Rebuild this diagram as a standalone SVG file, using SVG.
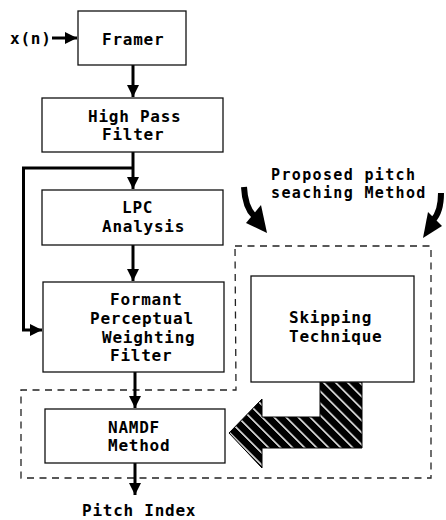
<svg xmlns="http://www.w3.org/2000/svg" width="446" height="520" viewBox="0 0 446 520">
<style>
.box{fill:#fff;stroke:#111;stroke-width:1.3}
.t{font-family:"DejaVu Sans Mono","Liberation Mono",monospace;font-size:16px;font-weight:bold;letter-spacing:0.75px;fill:#000}
.s{font-size:15px;letter-spacing:1.35px}
.ln{fill:none;stroke:#000;stroke-width:3}
.dash{fill:none;stroke:#222;stroke-width:1.3;stroke-dasharray:7 5.5}
</style>
<defs>
<marker id="ah" markerUnits="userSpaceOnUse" markerWidth="14" markerHeight="14" refX="12" refY="6" orient="auto">
<path d="M0,0 L12,6 L0,12 Z" fill="#000"/>
</marker>
<pattern id="hatch" patternUnits="userSpaceOnUse" width="8.5" height="8.5" patternTransform="rotate(-45)">
<rect width="8.5" height="8.5" fill="#000"/>
<rect width="1.5" height="8.5" fill="#fff"/>
</pattern>
</defs>

<g id="region">
<path class="dash" d="M235,246 H431 V478 H21 V390 H236 Z"/>
</g>

<g id="connectors">
<line class="ln" x1="52" y1="38" x2="77" y2="38" marker-end="url(#ah)"/>
<line class="ln" x1="133" y1="65" x2="133" y2="97" marker-end="url(#ah)"/>
<line class="ln" x1="133" y1="152" x2="133" y2="189" marker-end="url(#ah)"/>
<polyline class="ln" points="133,168 23.5,168 23.5,330 42,330" marker-end="url(#ah)"/>
<line class="ln" x1="133" y1="245" x2="133" y2="281" marker-end="url(#ah)"/>
<line class="ln" x1="135" y1="372" x2="135" y2="408" marker-end="url(#ah)"/>
<line class="ln" x1="135" y1="463" x2="135" y2="495" marker-end="url(#ah)"/>
<path d="M320,382 H362 V448 H262 V468 L229,433 L262,399 V417 H320 Z" fill="url(#hatch)" stroke="#000" stroke-width="1"/>
<path d="M244,187 Q245,207 254,216" fill="none" stroke="#000" stroke-width="6"/>
<polygon points="246,223 261,205 267,233" fill="#000"/>
<path d="M441,193 Q441,212 433,220" fill="none" stroke="#000" stroke-width="6"/>
<polygon points="428,212 442,226 423,238" fill="#000"/>
</g>

<g id="input"><text class="t" x="10" y="44">x(n)</text></g>

<g id="framer">
<rect class="box" x="78" y="11" width="108" height="54"/>
<text class="t" x="102" y="45">Framer</text>
</g>

<g id="hpf">
<rect class="box" x="42" y="98" width="181" height="54"/>
<text class="t" x="88" y="122">High Pass</text>
<text class="t" x="102" y="140">Filter</text>
</g>

<g id="lpc">
<rect class="box" x="42" y="190" width="181" height="55"/>
<text class="t" x="122" y="213">LPC</text>
<text class="t" x="102" y="232">Analysis</text>
</g>

<g id="formant">
<rect class="box" x="43" y="282" width="181" height="90"/>
<text class="t" x="110" y="305">Formant</text>
<text class="t" x="90" y="324">Perceptual</text>
<text class="t" x="102" y="343">Weighting</text>
<text class="t" x="110" y="361">Filter</text>
</g>

<g id="namdf">
<rect class="box" x="45" y="409" width="180" height="54"/>
<text class="t" x="108" y="433">NAMDF</text>
<text class="t" x="108" y="451">Method</text>
</g>

<g id="skipping">
<rect class="box" x="251" y="276" width="163" height="106"/>
<text class="t" x="289" y="323">Skipping</text>
<text class="t" x="289" y="342">Technique</text>
</g>

<g id="proposed">
<text class="t s" x="271" y="180">Proposed pitch</text>
<text class="t s" x="271" y="198">seaching Method</text>
</g>

<g id="output"><text class="t" x="82" y="516">Pitch Index</text></g>
</svg>
